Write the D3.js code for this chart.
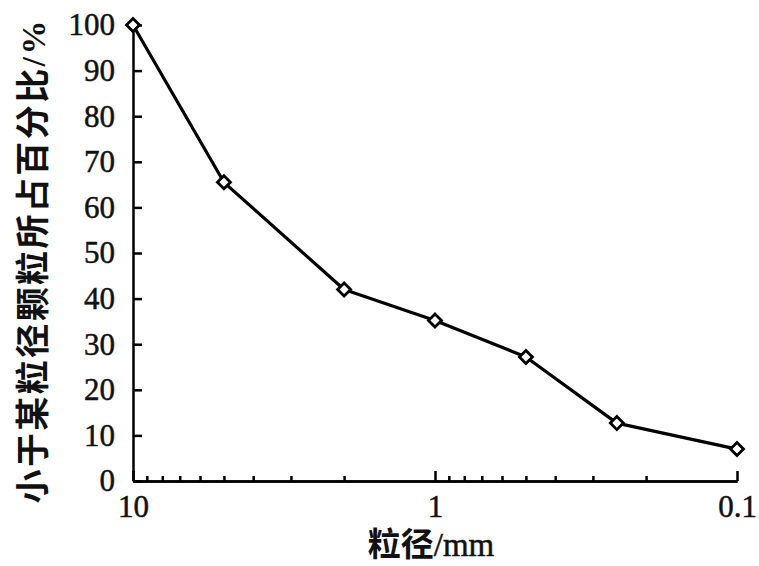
<!DOCTYPE html>
<html>
<head>
<meta charset="utf-8">
<script src="https://cdn.jsdelivr.net/npm/d3@7"></script>
<style>
  body { margin: 0; background: #fff; }
</style>
</head>
<body>
<svg id="chart"></svg>
<script>
// particle size (mm) and cumulative percent passing
const sizes = [10, 5, 2, 1, 0.5, 0.25, 0.1]
const percents = [100, 65.5, 42, 35.2, 27.2, 12.7, 7]
const majorTicks = [10, 1, 0.1]
const yTicks = [0, 10, 20, 30, 40, 50, 60, 70, 80, 90, 100]
const yTitle = '小于某粒径颗粒所占百分比/%'
const xTitleCn = '粒径'
const xTitleUnit = '/mm'

const width = 759
const height = 566
const serif = '"Liberation Serif", "Times New Roman", serif'
const cjk = '"Noto Sans CJK SC", sans-serif'

const svg = d3.select('#chart')
  .attr('width', width)
  .attr('height', height)

const x = d3.scaleLog()
  .domain([10, 0.1])
  .range([133, 737])

const y = d3.scaleLinear()
  .domain([0, 100])
  .range([481, 25])

// minor log ticks
const minor = []
;[10, 1].forEach(dec => {
  for (let k = 2; k <= 9; k++) minor.push(dec * k / 10)
})

const styleAxis = g => {
  g.selectAll('path, line').attr('stroke', '#000').attr('stroke-width', 2.5)
  g.selectAll('text')
    .attr('font-family', serif)
    .attr('font-size', '31px')
    .attr('fill', '#111')
    .attr('stroke', '#111')
    .attr('stroke-width', 0.5)
}

// y axis
svg.append('g')
  .attr('transform', `translate(${x(10)},0)`)
  .call(d3.axisLeft(y)
    .tickValues(yTicks)
    .tickSizeInner(-9)
    .tickSizeOuter(0)
    .tickPadding(18))
  .call(styleAxis)

// x axis, minor ticks
svg.append('g')
  .attr('transform', `translate(0,${y(0)})`)
  .call(d3.axisBottom(x)
    .tickValues(minor)
    .tickSizeInner(-5)
    .tickSizeOuter(0)
    .tickFormat(''))
  .call(styleAxis)

// x axis, major ticks
svg.append('g')
  .attr('transform', `translate(0,${y(0)})`)
  .call(d3.axisBottom(x)
    .tickValues(majorTicks)
    .tickSizeInner(-10)
    .tickSizeOuter(0)
    .tickPadding(14)
    .tickFormat(d => d3.format('~g')(d)))
  .call(styleAxis)

const points = sizes.map((s, i) => ({ s, p: percents[i] }))

svg.append('path')
  .datum(points)
  .attr('fill', 'none')
  .attr('stroke', '#000')
  .attr('stroke-width', 3.2)
  .attr('stroke-linejoin', 'round')
  .attr('d', d3.line().x(d => x(d.s)).y(d => y(d.p)))

svg.selectAll('.pt')
  .data(points)
  .enter().append('path')
  .attr('class', 'pt')
  .attr('transform', d => `translate(${x(d.s)},${y(d.p)}) rotate(45)`)
  .attr('d', d3.symbol(d3.symbolSquare, 85))
  .attr('fill', '#fff')
  .attr('stroke', '#000')
  .attr('stroke-width', 2.8)

// axis titles
svg.append('text')
  .attr('transform', 'translate(33,262) rotate(-90)')
  .attr('text-anchor', 'middle')
  .attr('dominant-baseline', 'central')
  .attr('font-family', `${serif.split(',')[0]}, ${cjk}`)
  .attr('font-size', '34px')
  .attr('font-weight', 'bold')
  .attr('fill', '#111')
  .attr('textLength', 483)
  .attr('lengthAdjust', 'spacing')
  .text(yTitle)

const xt = svg.append('text')
  .attr('x', 431)
  .attr('y', 556)
  .attr('text-anchor', 'middle')
  .attr('font-size', '33px')
  .attr('fill', '#111')

xt.append('tspan')
  .attr('font-family', cjk)
  .attr('font-weight', 'bold')
  .text(xTitleCn)

xt.append('tspan')
  .attr('font-family', serif)
  .attr('stroke', '#111')
  .attr('stroke-width', 0.5)
  .text(xTitleUnit)
</script>
</body>
</html>
